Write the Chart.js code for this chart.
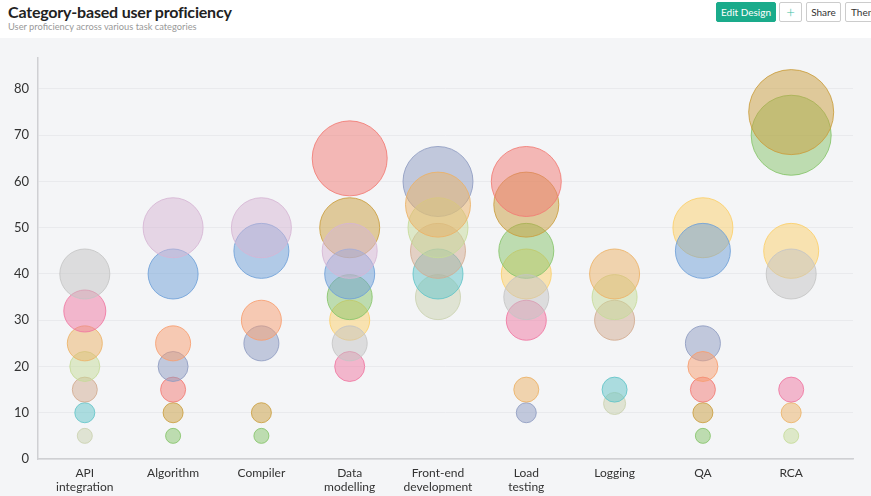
<!DOCTYPE html>
<html lang="en">
<head>
  <meta charset="UTF-8" />
  <title>Category-based user proficiency</title>
  <script src="https://cdn.jsdelivr.net/npm/chart.js"></script>
  <style>
    html, body { margin: 0; padding: 0; width: 871px; height: 496px; overflow: hidden; font-family: Lato, sans-serif; background: #fff; }
    .header { position: absolute; left: 0; top: 0; width: 871px; height: 38px; background: #fff; }
    .title { position: absolute; left: 8px; top: 2px; font-size: 16px; font-weight: bold; color: #222; letter-spacing: -0.2px; }
    .subtitle { position: absolute; left: 8px; top: 21px; font-size: 9.3px; color: #999; }
    .btn { position: absolute; top: 2px; height: 20px; box-sizing: border-box; font-size: 10px; line-height: 18px; text-align: center; border: 1px solid #ccc; border-radius: 2px; background: #fff; color: #333; }
    .btn.edit { left: 716px; width: 60px; background: #1aab8b; border-color: #1aab8b; color: #fff; }
    .btn.plus { left: 779px; width: 23px; color: #3cbf9f; font-size: 15px; font-weight: 300; }
    .btn.share { left: 806px; width: 35px; }
    .btn.theme { left: 845px; width: 40px; text-align: left; padding-left: 5px; }
    .chart-wrap { position: absolute; left: 0; top: 38px; width: 871px; height: 458px; background: #f4f5f7; }
    canvas { display: block; }
  </style>
</head>
<body>
  <div class="header">
    <div class="title">Category-based user proficiency</div>
    <div class="subtitle">User proficiency across various task categories</div>
    <div class="btn edit">Edit Design</div>
    <div class="btn plus">+</div>
    <div class="btn share">Share</div>
    <div class="btn theme">Theme</div>
  </div>
  <div class="chart-wrap">
    <canvas id="chart" width="871" height="458"></canvas>
  </div>

  <script>
    // categories along the x axis
    const categories = [
      ['API', 'integration'], 'Algorithm', 'Compiler', ['Data', 'modelling'],
      ['Front-end', 'development'], ['Load', 'testing'], 'Logging', 'QA', 'RCA'
    ];
    const yTicks = [0, 10, 20, 30, 40, 50, 60, 70, 80];

    // proficiency per category, one array per colour series (null = no bubble)
    const gray      = [40, null, null, 25, null, 35, null, null, 40];
    const pink      = [32, null, null, 20, null, 30, null, null, 15];
    const tan       = [25, null, null, null, 55, 15, 40, null, 10];
    const lime      = [20, null, null, null, 50, null, 35, null, 5];
    const beige     = [15, null, null, null, 45, null, 30, null, null];
    const teal      = [10, null, null, null, 40, null, 15, null, null];
    const olive     = [5, null, null, null, 35, null, 12, null, null];
    const lavender  = [null, 50, 50, 45, null, null, null, null, null];
    const blue      = [null, 40, 45, 40, null, null, null, 45, null];
    const salmon    = [null, 25, 30, null, null, null, null, 20, null];
    const slate     = [null, 20, 25, null, 60, 10, null, 25, null];
    const red       = [null, 15, null, 65, null, 60, null, 15, null];
    const gold      = [null, 10, 10, 50, null, 55, null, 10, 75];
    const green     = [null, 5, 5, 35, null, 45, null, 5, 70];
    const yellow    = [null, null, null, 30, null, 40, null, 50, 45];

    const series = [
      [gray, '196,196,196'], [pink, '240,119,161'], [tan, '236,177,101'],
      [lime, '198,219,153'], [beige, '210,171,145'], [teal, '98,196,200'],
      [olive, '202,209,175'], [lavender, '214,181,211'], [blue, '110,160,216'],
      [salmon, '248,157,111'], [slate, '142,155,193'], [red, '242,122,115'],
      [gold, '202,157,61'], [green, '134,196,106'], [yellow, '252,207,105']
    ];

    const datasets = series.map(([vals, rgb]) => ({
      data: vals.map((v, i) => v === null ? null : { x: i, y: v }).filter(p => p),
      backgroundColor: 'rgba(' + rgb + ',0.5)',
      borderColor: 'rgba(' + rgb + ',0.85)',
      borderWidth: 1,
      // bubble size follows the value
      radius: ctx => ctx.raw ? ctx.raw.y / 2 + 5 : 0,
      hoverRadius: 0
    }));

    const ctx = document.getElementById('chart').getContext('2d');
    new Chart(ctx, {
      type: 'bubble',
      data: { datasets },
      options: {
        responsive: false,
        animation: false,
        layout: { autoPadding: false, padding: { top: 20, right: 18, left: 0, bottom: 0 } },
        plugins: { legend: { display: false }, tooltip: { enabled: false } },
        scales: {
          x: {
            type: 'linear',
            min: -0.53,
            max: 8.7,
            afterBuildTicks: s => { s.ticks = categories.map((c, i) => ({ value: i })); },
            afterFit: s => { s.height = 37; s.paddingLeft = 0; s.paddingRight = 0; },
            ticks: {
              autoSkip: false,
              maxRotation: 0,
              padding: 7,
              color: '#333',
              font: { family: 'Lato', size: 12 },
              callback: v => categories[v]
            },
            grid: { drawOnChartArea: false, drawTicks: false },
            border: { color: '#cfd0d3', width: 1.5 }
          },
          y: {
            min: 0,
            max: 86.7,
            afterBuildTicks: s => { s.ticks = yTicks.map(v => ({ value: v })); },
            afterFit: s => { s.width = 38; s.paddingTop = 0; s.paddingBottom = 0; },
            ticks: {
              padding: 9,
              color: '#333',
              font: { family: 'Lato', size: 13 }
            },
            grid: { color: '#e9eaed', drawTicks: false },
            border: { color: '#cfd0d3', width: 1.5 }
          }
        }
      }
    });
  </script>
</body>
</html>
